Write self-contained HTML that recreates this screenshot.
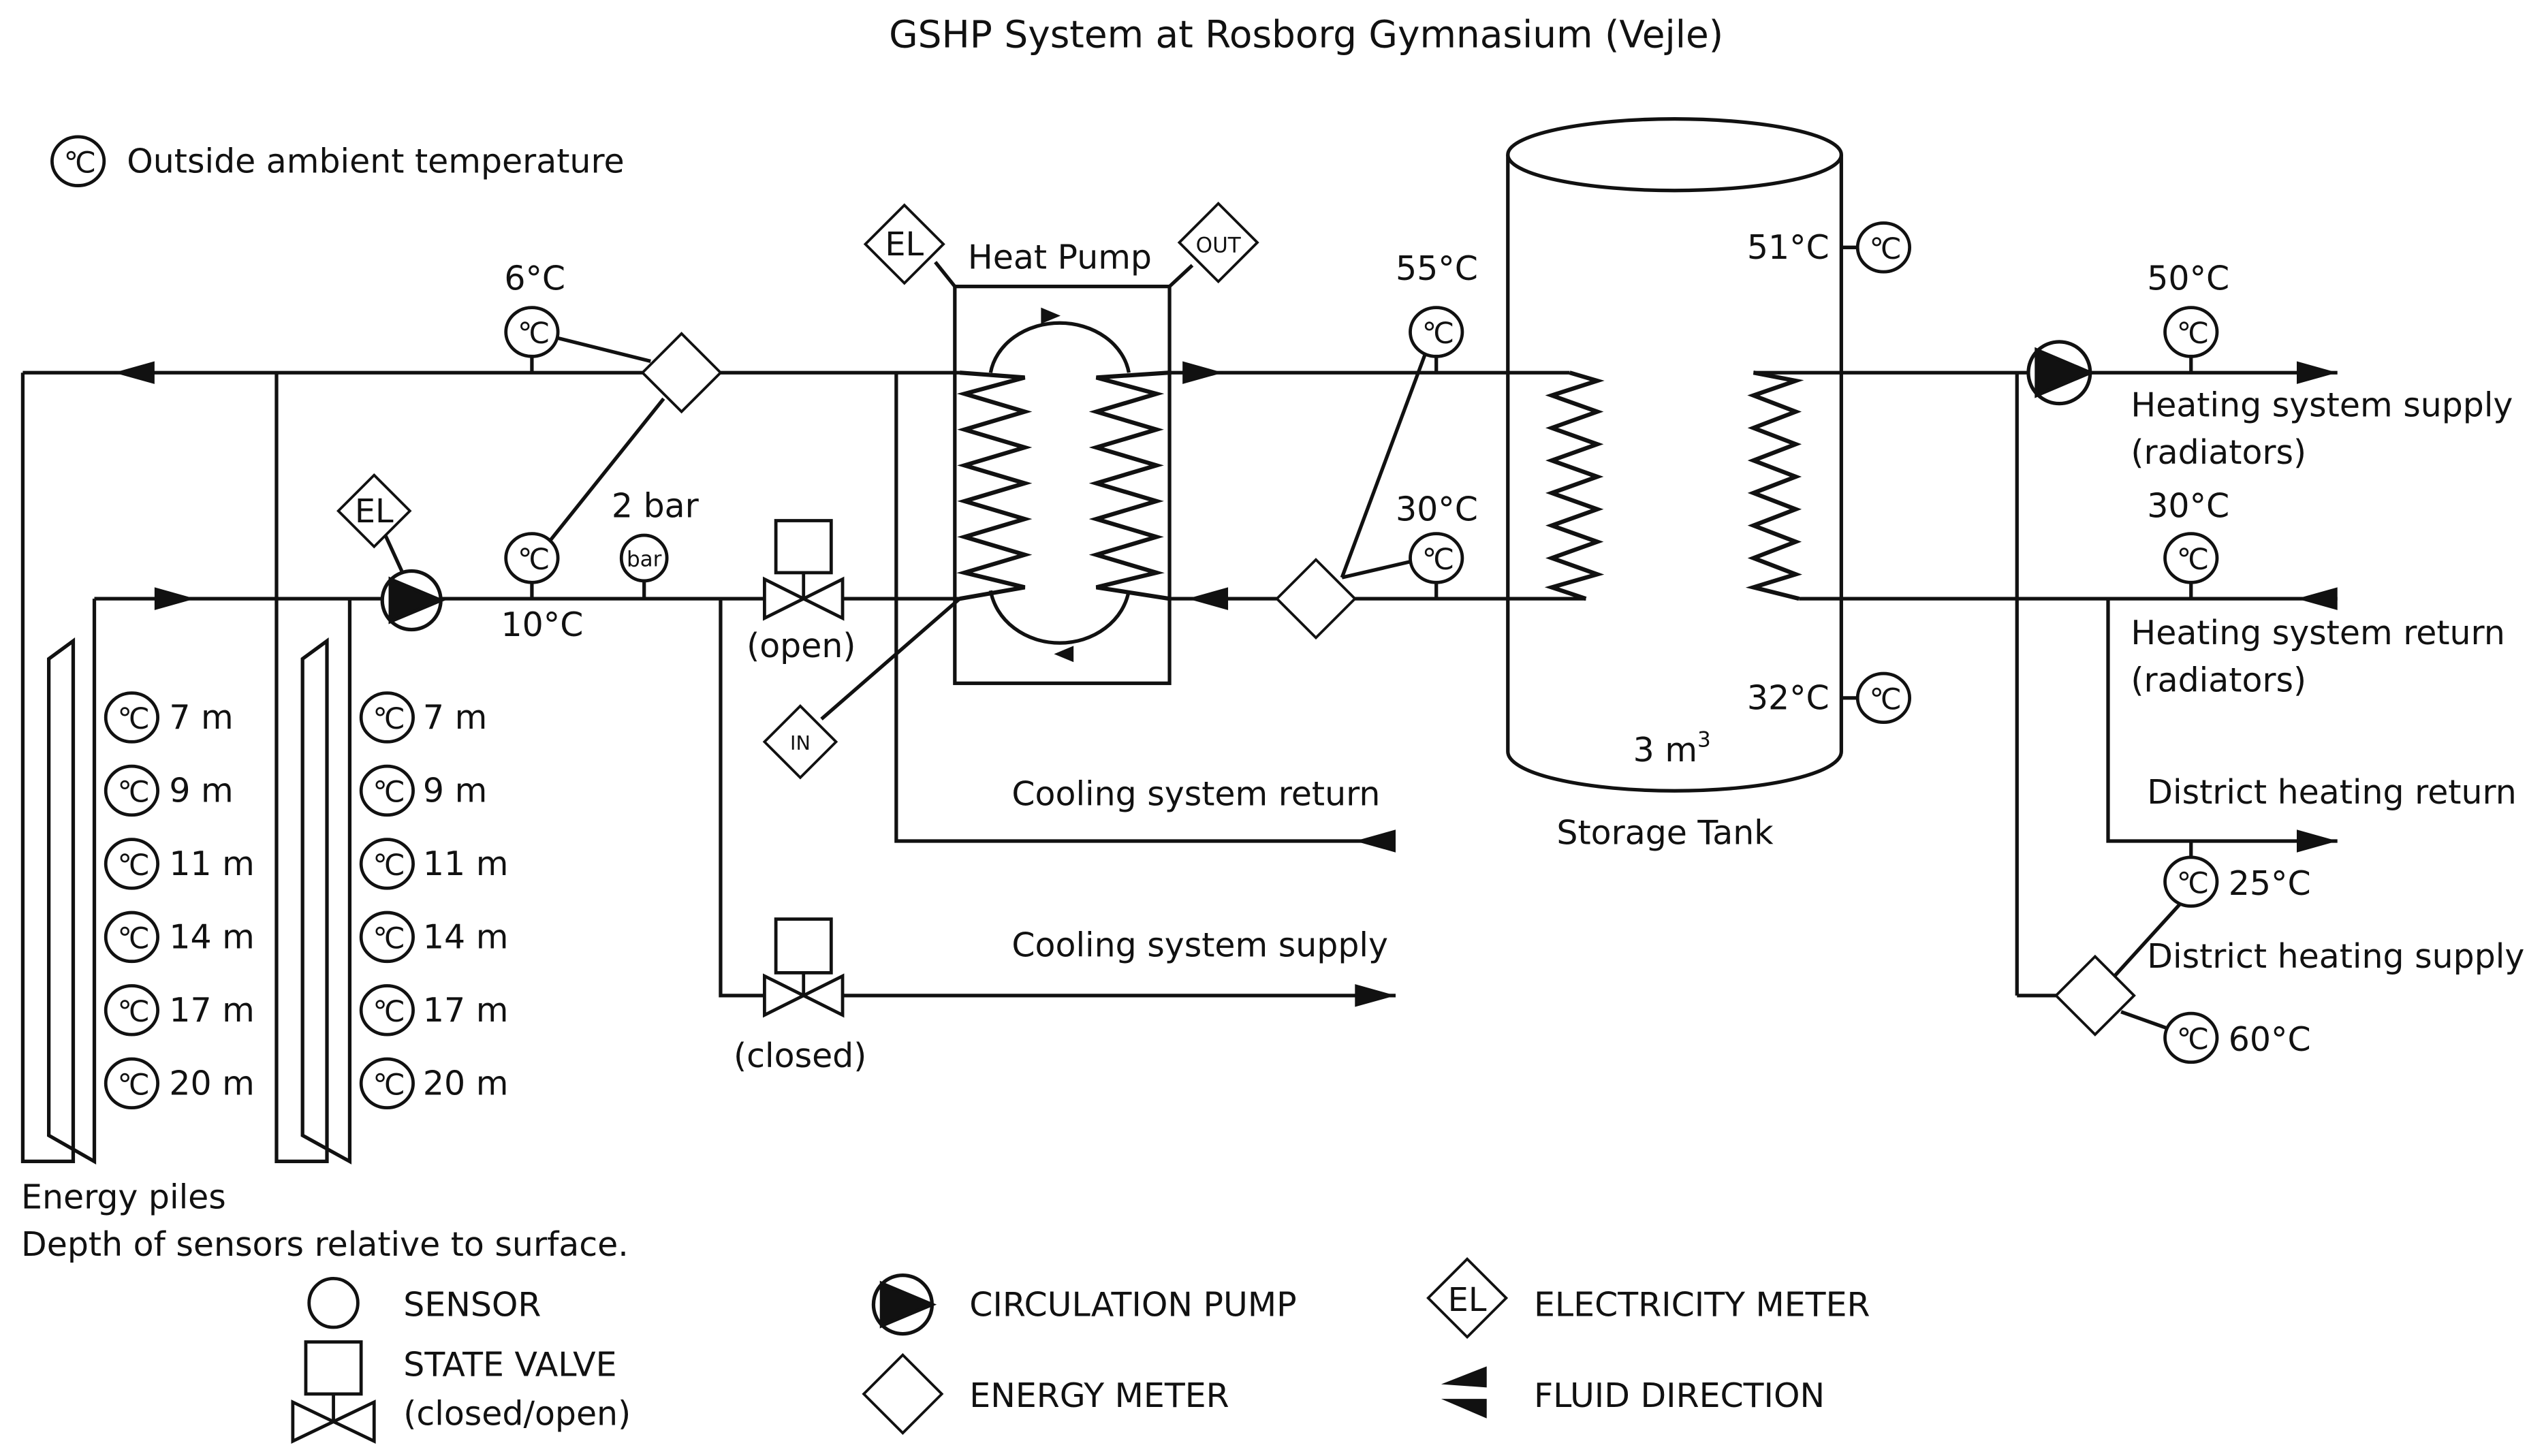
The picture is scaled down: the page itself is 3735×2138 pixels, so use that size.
<!DOCTYPE html>
<html><head><meta charset="utf-8"><style>
html,body{margin:0;padding:0;background:#fff;}
svg{display:block;}
text{font-family:"DejaVu Sans","Liberation Sans",sans-serif;fill:#111;}
</style></head><body>
<svg width="3735" height="2138" viewBox="0 0 1564 895" xmlns="http://www.w3.org/2000/svg">
<defs>
<g id="s"><ellipse cx="0" cy="0" rx="16" ry="15" fill="#fff" stroke="#111" stroke-width="2"/><text x="0" y="7" font-size="18" text-anchor="middle" letter-spacing="-2">°C</text></g>
</defs>
<g stroke="#111" stroke-width="2.2" fill="none">
<line x1="14" y1="229" x2="590" y2="229"/>
<line x1="719" y1="229" x2="965" y2="229"/>
<line x1="58" y1="368" x2="590" y2="368"/>
<line x1="719" y1="368" x2="975" y2="368"/>
<polyline points="14,229 14,714 45,714 45,394 30,405 30,698 58,714 58,368"/>
<polyline points="170,229 170,714 201,714 201,394 186,405 186,698 215,714 215,368"/>
<polyline points="443,368 443,612 858,612"/>
<polyline points="551,229 551,517 858,517"/>
<rect x="587" y="176" width="132" height="244"/>
<path d="M609,229 A43,36 0 0 1 694,229"/>
<path d="M609,363 A43,38 0 0 0 694,363"/>
<line x1="575" y1="161" x2="587" y2="176"/>
<line x1="733" y1="163" x2="719" y2="176"/>
<line x1="505" y1="442" x2="590" y2="368"/>
<line x1="340" y1="207" x2="400" y2="222"/>
<line x1="336" y1="335" x2="408" y2="245"/>
<line x1="327" y1="219" x2="327" y2="229"/>
<line x1="327" y1="358" x2="327" y2="368"/>
<line x1="396" y1="357" x2="396" y2="368"/>
<line x1="236" y1="327" x2="247" y2="351"/>
<line x1="825" y1="355" x2="876" y2="218"/>
<line x1="825" y1="355" x2="868" y2="345"/>
<line x1="883" y1="219" x2="883" y2="229"/>
<line x1="883" y1="358" x2="883" y2="368"/>
<path d="M927,95 L927,462 A102,24 0 0 0 1132,462 L1132,95"/>
<ellipse cx="1029.5" cy="95" rx="102.5" ry="22"/>
<line x1="1132" y1="152" x2="1142" y2="152"/>
<line x1="1132" y1="429" x2="1142" y2="429"/>
<line x1="1078" y1="229" x2="1437" y2="229"/>
<line x1="1106" y1="368" x2="1437" y2="368"/>
<line x1="1240" y1="229" x2="1240" y2="612"/>
<line x1="1240" y1="612" x2="1264" y2="612"/>
<polyline points="1296,368 1296,517 1437,517"/>
<line x1="1347" y1="219" x2="1347" y2="229"/>
<line x1="1347" y1="358" x2="1347" y2="368"/>
<line x1="1300" y1="600" x2="1340" y2="556"/>
<line x1="1304" y1="622" x2="1332" y2="632"/>
<line x1="1347" y1="517" x2="1347" y2="527"/>
</g>
<g stroke="#111" stroke-width="2.6" fill="none">
<polyline points="590,229 630,232 593,242 630,253 593,264 630,275 593,286 630,297 593,308 630,319 593,330 630,341 593,352 630,361 590,368"/>
<polyline points="719,229 674,232 711,242 674,253 711,264 674,275 711,286 674,297 711,308 674,319 711,330 674,341 711,352 674,361 719,368"/>
<polyline points="965,229 982,234 954,243 982,253 954,263 982,273 954,283 982,293 954,303 982,313 954,323 982,333 954,343 982,353 954,361 975,368"/>
<polyline points="1078,229 1104,234 1078,243 1104,253 1078,263 1104,273 1078,283 1104,293 1078,303 1104,313 1078,323 1104,333 1078,343 1104,353 1078,361 1106,368"/>
</g>
<g fill="#111">
<polygon points="70,229 95,222 95,236"/>
<polygon points="120,368 95,361 95,375"/>
<polygon points="752,229 727,222 727,236"/>
<polygon points="730,368 755,361 755,375"/>
<polygon points="858,612 833,605 833,619"/>
<polygon points="833,517 858,510 858,524"/>
<polygon points="1437,229 1412,222 1412,236"/>
<polygon points="1412,368 1437,361 1437,375"/>
<polygon points="1437,517 1412,510 1412,524"/>
<polygon points="652,194 640,189 640,199"/>
<polygon points="648,402 660,397 660,407"/>
</g>
<g fill="#fff" stroke="#111" stroke-width="1.6">
<polygon points="419,205 443,229 419,253 395,229"/>
<polygon points="809,344 833,368 809,392 785,368"/>
<polygon points="1288,588 1312,612 1288,636 1264,612"/>
<polygon points="556,126 580,150 556,174 532,150"/>
<polygon points="749,125 773,149 749,173 725,149"/>
<polygon points="492,434 514,456 492,478 470,456"/>
<polygon points="230,292 252,314 230,336 208,314"/>
<polygon points="555,833 579,857 555,881 531,857"/>
<polygon points="902,774 926,798 902,822 878,798"/>
</g>
<g font-size="20">
<text x="556" y="157" text-anchor="middle">EL</text>
<text x="749" y="155" text-anchor="middle" font-size="13">OUT</text>
<text x="492" y="461" text-anchor="middle" font-size="12">IN</text>
<text x="230" y="321" text-anchor="middle">EL</text>
<text x="902" y="806" text-anchor="middle">EL</text>
</g>
<g stroke="#111" stroke-width="2.2">
<circle cx="253" cy="369" r="18" fill="#fff"/><polygon points="240,356 271,369 240,382" fill="#111"/>
<circle cx="1266" cy="229" r="19" fill="#fff"/><polygon points="1252,215 1285,229 1252,243" fill="#111"/>
<circle cx="555" cy="802" r="18" fill="#fff"/><polygon points="542,789 573,802 542,815" fill="#111"/>
</g>
<g stroke="#111" stroke-width="2" fill="#fff">
<rect x="477" y="320" width="34" height="32"/><line x1="494" y1="352" x2="494" y2="368"/>
<polygon points="470,356 470,380 518,356 518,380"/>
<rect x="477" y="565" width="34" height="33"/><line x1="494" y1="598" x2="494" y2="612"/>
<polygon points="470,600 470,624 518,600 518,624"/>
<rect x="188" y="825" width="34" height="32"/><line x1="205" y1="857" x2="205" y2="874"/>
<polygon points="180,862 180,886 230,862 230,886"/>
<circle cx="205" cy="801" r="15"/>
<circle cx="396" cy="343" r="14"/>
</g>
<text x="396" y="348" text-anchor="middle" font-size="13">bar</text>
<polygon points="886,851 914,840 914,853" fill="#111"/>
<polygon points="886,860 914,860 914,872" fill="#111"/>
<use href="#s" x="48" y="99"/>
<use href="#s" x="327" y="204"/>
<use href="#s" x="327" y="343"/>
<use href="#s" x="883" y="204"/>
<use href="#s" x="883" y="343"/>
<use href="#s" x="1158" y="152"/>
<use href="#s" x="1158" y="429"/>
<use href="#s" x="1347" y="204"/>
<use href="#s" x="1347" y="343"/>
<use href="#s" x="1347" y="542"/>
<use href="#s" x="1347" y="638"/>
<use href="#s" x="81" y="441"/><use href="#s" x="81" y="486"/><use href="#s" x="81" y="531"/><use href="#s" x="81" y="576"/><use href="#s" x="81" y="621"/><use href="#s" x="81" y="666"/>
<use href="#s" x="238" y="441"/><use href="#s" x="238" y="486"/><use href="#s" x="238" y="531"/><use href="#s" x="238" y="576"/><use href="#s" x="238" y="621"/><use href="#s" x="238" y="666"/>
<g font-size="20.5">
<text x="803" y="29" text-anchor="middle" font-size="23">GSHP System at Rosborg Gymnasium (Vejle)</text>
<text x="78" y="106">Outside ambient temperature</text>
<text x="595" y="165">Heat Pump</text>
<text x="310" y="178">6°C</text>
<text x="308" y="391">10°C</text>
<text x="376" y="318">2 bar</text>
<text x="459" y="404">(open)</text>
<text x="451" y="656">(closed)</text>
<text x="622" y="495">Cooling system return</text>
<text x="622" y="588">Cooling system supply</text>
<text x="858" y="172">55°C</text>
<text x="858" y="320">30°C</text>
<text x="1074" y="159">51°C</text>
<text x="1074" y="436">32°C</text>
<text x="1004" y="468">3 m<tspan font-size="13" dy="-9">3</tspan></text>
<text x="957" y="519">Storage Tank</text>
<text x="1320" y="178">50°C</text>
<text x="1310" y="256">Heating system supply</text>
<text x="1310" y="285">(radiators)</text>
<text x="1320" y="318">30°C</text>
<text x="1310" y="396">Heating system return</text>
<text x="1310" y="425">(radiators)</text>
<text x="1320" y="494">District heating return</text>
<text x="1370" y="550">25°C</text>
<text x="1320" y="595">District heating supply</text>
<text x="1370" y="646">60°C</text>
<text x="104" y="448">7 m</text><text x="104" y="493">9 m</text><text x="104" y="538">11 m</text><text x="104" y="583">14 m</text><text x="104" y="628">17 m</text><text x="104" y="673">20 m</text>
<text x="260" y="448">7 m</text><text x="260" y="493">9 m</text><text x="260" y="538">11 m</text><text x="260" y="583">14 m</text><text x="260" y="628">17 m</text><text x="260" y="673">20 m</text>
<text x="13" y="743">Energy piles</text>
<text x="13" y="772">Depth of sensors relative to surface.</text>
<text x="248" y="809">SENSOR</text>
<text x="248" y="846">STATE VALVE</text>
<text x="248" y="876">(closed/open)</text>
<text x="596" y="809">CIRCULATION PUMP</text>
<text x="596" y="865">ENERGY METER</text>
<text x="943" y="809">ELECTRICITY METER</text>
<text x="943" y="865">FLUID DIRECTION</text>
</g>
</svg>
</body></html>
